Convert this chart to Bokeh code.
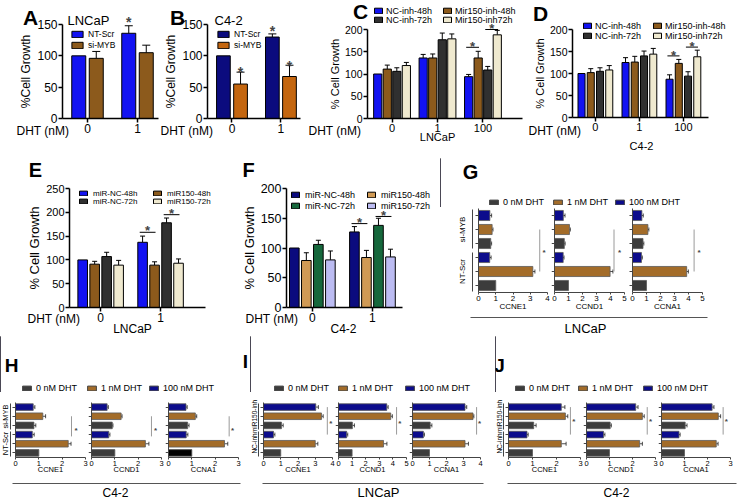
import math
from bokeh.plotting import figure
from bokeh.models import (Range1d, FixedTicker, Label, Legend, LegendItem, Whisker,
                          ColumnDataSource, TeeHead, LinearAxis)
from bokeh.layouts import row, column
from bokeh.embed import file_html
from bokeh.resources import INLINE

FONT = "Liberation Sans"

# ---------------- data ----------------
dht_2 = ["0", "1"]
dht_3 = ["0", "1", "100"]

# A (LNCaP) / B (C4-2)
ab_series = ["NT-Scr", "si-MYB"]
a_ntscr = [100, 136]; a_ntscr_err = [0, 12]
a_simyb = [96, 105];  a_simyb_err = [11, 12]
b_ntscr = [100, 130]; b_ntscr_err = [0, 5]
b_simyb = [55, 67];   b_simyb_err = [19, 18]

# C (LNCaP) / D (C4-2)
cd_series = ["NC-inh-48h", "Mir150-inh-48h", "NC-inh-72h", "Mir150-inh72h"]
c_nc48 = [100, 136, 94];  c_nc48_err = [0, 8, 5]
c_mir48 = [111, 136, 136]; c_mir48_err = [9, 9, 15]
c_nc72 = [106, 177, 109]; c_nc72_err = [8, 15, 8]
c_mir72 = [119, 179, 188]; c_mir72_err = [7, 11, 10]
d_nc48 = [100, 125, 87];  d_nc48_err = [0, 11, 10]
d_mir48 = [102, 126, 123]; d_mir48_err = [9, 13, 9]
d_nc72 = [105, 140, 94];  d_nc72_err = [8, 11, 10]
d_mir72 = [108, 144, 138]; d_mir72_err = [10, 13, 15]

# E (LNCaP) / F (C4-2)
ef_series = ["miR-NC-48h", "miR150-48h", "miR-NC-72h", "miR150-72h"]
e_nc48 = [100, 137]; e_nc48_err = [0, 13]
e_mir48 = [91, 89];  e_mir48_err = [6, 7]
e_nc72 = [107, 178]; e_nc72_err = [9, 10]
e_mir72 = [89, 93];  e_mir72_err = [10, 9]
f_nc48 = [100, 127]; f_nc48_err = [0, 9]
f_mir48 = [79, 84];  f_mir48_err = [13, 12]
f_nc72 = [106, 138]; f_nc72_err = [7, 12]
f_mir72 = [80, 85];  f_mir72_err = [15, 13]

# G-J : relative mRNA, rows top->bottom: [grpTop 100nM, 1nM, 0nM, grpBottom 100nM, 1nM, 0nM]
dose_labels = ["0 nM DHT", "1 nM DHT", "100 nM DHT"]
row_dose = [2, 1, 0, 2, 1, 0]
genes = ["CCNE1", "CCND1", "CCNA1"]
gh_groups = ["si-MYB", "NT-Scr"]
ij_groups = ["miR150-inh", "NC-inh"]

g_vals = [[0.66, 0.79, 0.71, 0.65, 3.15, 1.0],
          [0.63, 1.07, 0.70, 0.62, 3.97, 1.0],
          [0.67, 1.10, 0.75, 0.64, 3.87, 1.0]]
g_errs = [[0.10, 0.05, 0.05, 0.08, 0.12, 0],
          [0.12, 0.06, 0.06, 0.06, 0.20, 0],
          [0.10, 0.07, 0.06, 0.06, 0.12, 0]]
h_vals = [[0.76, 1.17, 0.79, 0.72, 2.26, 1.0],
          [0.67, 1.27, 0.89, 0.74, 2.31, 1.0],
          [0.75, 1.15, 0.82, 0.76, 2.40, 1.0]]
h_errs = [[0.07, 0.12, 0.08, 0.08, 0.12, 0],
          [0.05, 0.04, 0.03, 0.05, 0.15, 0],
          [0.05, 0.06, 0.06, 0.07, 0.14, 0]]
i_vals = [[3.03, 3.36, 1.04, 0.58, 3.00, 1.0],
          [3.55, 3.84, 1.02, 0.60, 3.31, 1.0],
          [3.09, 3.56, 1.04, 0.64, 3.09, 1.0]]
i_errs = [[0.15, 0.10, 0.10, 0.08, 0.15, 0],
          [0.10, 0.12, 0.15, 0.08, 0.25, 0],
          [0.10, 0.05, 0.10, 0.06, 0.20, 0]]
j_vals = [[2.20, 2.37, 1.05, 0.77, 2.20, 1.0],
          [2.14, 2.43, 1.03, 0.74, 2.31, 1.0],
          [2.20, 2.47, 1.03, 0.76, 2.38, 1.0]]
j_errs = [[0.15, 0.10, 0.10, 0.05, 0.20, 0],
          [0.10, 0.08, 0.05, 0.06, 0.12, 0],
          [0.08, 0.10, 0.08, 0.05, 0.08, 0]]

# ---------------- style ----------------
BLUE = "#1212f2"; BROWN = "#8c5a1c"; NAVY = "#0b0b7e"; ORANGE = "#c4660f"
DARK = "#303030"; CREAM = "#efe9cf"; TAN = "#d09a55"; GREEN = "#16683c"; LAV = "#bcbcf2"
DOSE_COLORS = ["#3c3c3c", "#a36c29", "#0c0c8c"]


class Panel:
    """Figure whose frame fills its canvas; the data rectangle `rect` (layout pixels)
    carries the ranges xr/yr, and the axes are pinned there with fixed_location."""

    def __init__(self, canvas, rect=None, xr=(0, 1), yr=(0, 1), axes=True):
        cx0, cy0, cx1, cy1 = canvas
        if rect is None:
            rect = canvas
        fx0, fy0, fx1, fy1 = rect
        ux = (xr[1] - xr[0]) / (fx1 - fx0)
        uy = (yr[1] - yr[0]) / (fy1 - fy0)
        full_x = (xr[0] - (fx0 - cx0) * ux, xr[1] + (cx1 - fx1) * ux)
        full_y = (yr[0] - (cy1 - fy1) * uy, yr[1] + (fy0 - cy0) * uy)
        p = figure(width=cx1 - cx0, height=cy1 - cy0, x_range=Range1d(*full_x),
                   y_range=Range1d(*full_y), min_border=0, min_border_left=0,
                   min_border_right=0, min_border_top=0, min_border_bottom=0,
                   x_axis_location=None, y_axis_location=None,
                   toolbar_location=None, output_backend="svg", title=None)
        p.xgrid.visible = False
        p.ygrid.visible = False
        p.outline_line_color = None
        if axes:
            p.add_layout(LinearAxis(fixed_location=yr[0], bounds=tuple(xr)), "below")
            p.add_layout(LinearAxis(fixed_location=xr[0], bounds=tuple(yr)), "left")
        self.p = p
        self.cx0, self.cy1 = cx0, cy1
        self.ux, self.uy = ux, uy
        self.x0d, self.y0d = full_x[0], full_y[0]
        self.ppu = 1.0 / uy

    def sx(self, px):
        return px - self.cx0

    def sy(self, py):
        return self.cy1 - py

    def dx(self, px):
        return self.x0d + (px - self.cx0) * self.ux

    def dy(self, py):
        return self.y0d + (self.cy1 - py) * self.uy

    def text(self, px, py, t, fs, align="center", bold=False, angle=0.0, color="black"):
        self.p.add_layout(Label(x=self.sx(px), y=self.sy(py), x_units="screen", y_units="screen",
                                text=t, text_font=FONT, text_font_size=f"{fs}px", text_align=align,
                                text_baseline="middle", text_font_style="bold" if bold else "normal",
                                angle=angle, text_color=color))

    def vline(self, px, py0, py1, color="black", w=1):
        self.p.segment(x0=[self.dx(px)], y0=[self.dy(py0)], x1=[self.dx(px)], y1=[self.dy(py1)],
                       line_color=color, line_width=w)

    def hline(self, px0, px1, py, color="black", w=1):
        self.p.segment(x0=[self.dx(px0)], y0=[self.dy(py)], x1=[self.dx(px1)], y1=[self.dy(py)],
                       line_color=color, line_width=w)

    def legend_item(self, label, r, left_px, cy, gw, gh, fs, standoff=4):
        h = max(gh, int(math.ceil(fs * 1.25)))
        bottom = cy - gh / 2 + h
        lg = Legend(items=[LegendItem(label=label, renderers=[r])],
                    location=(self.sx(left_px), self.sy(bottom)),
                    orientation="vertical", padding=0, margin=0, spacing=0,
                    glyph_width=gw, glyph_height=gh, label_height=h, label_standoff=standoff,
                    label_text_font=FONT, label_text_font_size=f"{fs}px",
                    label_text_baseline="middle", label_text_color="black",
                    background_fill_alpha=0, border_line_color=None)
        self.p.add_layout(lg)

    def star(self, x, yc, fs):
        # yc = wanted visual centre of the asterisk (data units)
        self.p.add_layout(Label(x=x, y=yc - 0.25 * fs / self.ppu, text="*", text_font=FONT,
                                text_font_size=f"{fs}px", text_align="center",
                                text_baseline="middle", text_font_style="bold"))


def style_axes(p, fs_x, fs_y, fs_lab, lw=1.5, color="black", tick_out=4):
    for ax in list(p.xaxis) + list(p.yaxis):
        ax.axis_line_width = lw
        ax.axis_line_color = color
        ax.major_tick_line_width = lw
        ax.major_tick_line_color = color
        ax.major_tick_out = tick_out
        ax.major_tick_in = 0
        ax.minor_tick_line_color = None
        ax.major_label_text_font = FONT
        ax.major_label_text_color = "black"
        ax.axis_label_text_font = FONT
        ax.axis_label_text_font_style = "normal"
        ax.axis_label_text_color = "black"
        ax.major_label_standoff = 1
        ax.axis_label_standoff = 1
    for ax in p.xaxis:
        ax.major_label_text_font_size = f"{fs_x}px"
        ax.axis_label_text_font_size = f"{fs_lab}px"
    for ax in p.yaxis:
        ax.major_label_text_font_size = f"{fs_y}px"
        ax.axis_label_text_font_size = f"{fs_lab}px"


def vpanel(canvas, rect, xr, yr, yticks, groups, vals, errs, colors, step, width, head,
           fs_x, fs_y, ylabel, fs_lab):
    P = Panel(canvas, rect, xr, yr)
    p = P.p
    K = len(vals)
    rends, centers = [], []
    for k in range(K):
        off = (k - (K - 1) / 2) * step
        xs = [i + off for i in range(len(groups))]
        centers.append(xs)
        src = ColumnDataSource(dict(x=xs, top=vals[k]))
        r = p.vbar(x="x", top="top", bottom=0, width=width, source=src, fill_color=colors[k],
                   line_color="black", line_width=1)
        rends.append(r)
        idx = [i for i in range(len(groups)) if errs[k][i] > 0]
        esrc = ColumnDataSource(dict(x=[xs[i] for i in idx], lo=[vals[k][i] for i in idx],
                                     up=[vals[k][i] + errs[k][i] for i in idx]))
        p.add_layout(Whisker(source=esrc, base="x", lower="lo", upper="up", dimension="height",
                             line_color="black", line_width=1, lower_head=None,
                             upper_head=TeeHead(size=head, line_color="black", line_width=1)))
    style_axes(p, fs_x, fs_y, fs_lab)
    p.xaxis.ticker = FixedTicker(ticks=list(range(len(groups))))
    p.xaxis.major_label_overrides = {i: g for i, g in enumerate(groups)}
    p.yaxis.ticker = FixedTicker(ticks=yticks)
    p.yaxis.axis_label = ylabel
    P.centers = centers
    P.bw = width
    return P, rends


def vbracket(P, g, i, j, y_line, y_star, fs):
    x1 = P.centers[i][g] - 0.3 * P.bw
    x2 = P.centers[j][g] + 0.1 * P.bw
    src = ColumnDataSource(dict(b=[y_line], lo=[x1], up=[x2]))
    P.p.add_layout(Whisker(source=src, base="b", lower="lo", upper="up", dimension="width",
                           line_color="black", line_width=1, lower_head=None, upper_head=None))
    P.star((x1 + x2) / 2, y_star, fs)


def hpanel(canvas, rect, xmax, vals, errs, gene, brk_x, brk_r0, brk_r1, star_x, star_r,
           colors=None, fs=8, star_fs=8, lab_off=-2):
    P = Panel(canvas, rect, (0, xmax), (-0.5, 5.5))
    p = P.p
    ys = [5 - i for i in range(len(vals))]
    cols = colors if colors else [DOSE_COLORS[d] for d in row_dose]
    src = ColumnDataSource(dict(y=ys, right=vals, color=cols))
    p.hbar(y="y", left=0, right="right", height=0.72, fill_color="color", line_color="#5a5a5a",
           line_width=0.8, source=src)
    idx = [i for i in range(len(vals)) if errs[i] > 0]
    esrc = ColumnDataSource(dict(y=[ys[i] for i in idx], lo=[vals[i] for i in idx],
                                 up=[vals[i] + errs[i] for i in idx]))
    p.add_layout(Whisker(source=esrc, base="y", lower="lo", upper="up", dimension="width",
                         line_color="#222222", line_width=0.8, lower_head=None,
                         upper_head=TeeHead(size=4, line_color="#222222", line_width=0.8)))
    bsrc = ColumnDataSource(dict(b=[brk_x], lo=[5 - brk_r1], up=[5 - brk_r0]))
    p.add_layout(Whisker(source=bsrc, base="b", lower="lo", upper="up", dimension="height",
                         line_color="#9a9a9a", line_width=1, lower_head=None, upper_head=None))
    P.star(star_x, 5 - star_r, star_fs)
    style_axes(p, fs, fs, fs, lw=1, color="#444444", tick_out=2)
    p.xaxis.ticker = FixedTicker(ticks=list(range(xmax + 1)))
    p.yaxis.ticker = FixedTicker(ticks=ys)
    p.yaxis.major_label_overrides = {y: "" for y in ys}
    p.yaxis.major_label_standoff = 0
    p.yaxis.major_tick_out = 3
    p.xaxis.axis_label = gene
    p.xaxis.axis_label_standoff = lab_off
    return P


def header(canvas, letters, lfs, legend_x, legend_y):
    P = Panel(canvas, axes=False)
    for t, (lx, ly) in letters:
        P.text(lx, ly, t, lfs, bold=True)
    rs = [P.p.vbar(x=[-5], top=[1], width=0.1, fill_color=c, line_color="#444444", line_width=1)
          for c in DOSE_COLORS]
    for k in range(3):
        P.legend_item(dose_labels[k], rs[k], legend_x[k], legend_y, 11, 6, 9, standoff=4)
    return P.p


def footer(canvas, x0, x1, ly, text, tx, ty, fs):
    P = Panel(canvas, axes=False)
    P.hline(x0, x1, ly, color="#555555", w=1)
    P.text(tx, ty, text, fs)
    return P.p


# ================= Row 1 =================
A, a_r = vpanel((0, 0, 160, 158), (62, 24, 158, 118), (-0.5, 1.42), (0, 150), [0, 50, 100, 150], dht_2,
                [a_ntscr, a_simyb], [a_ntscr_err, a_simyb_err], [BLUE, BROWN], 0.35, 0.28, 8,
                12, 12, "%Cell Growth", 12)
A.text(30, 17, "A", 21, bold=True)
A.text(67, 20, "LNCaP", 13, align="left")
A.legend_item(ab_series[0], a_r[0], 70, 32, 14, 8, 8.5)
A.legend_item(ab_series[1], a_r[1], 70, 43, 14, 8, 8.5)
A.text(44, 130, "DHT  (nM)", 12)
A.star(A.centers[0][1], 159, 14)

B, b_r = vpanel((160, 0, 303, 158), (207, 24, 300, 118), (-0.5, 1.4), (0, 150), [0, 50, 100, 150], dht_2,
                [b_ntscr, b_simyb], [b_ntscr_err, b_simyb_err], [NAVY, ORANGE], 0.35, 0.28, 8,
                12, 12, "%Cell Growth", 12)
B.text(177, 17, "B", 21, bold=True)
B.text(214, 20, "C4-2", 13, align="left")
B.legend_item(ab_series[0], b_r[0], 216, 32, 14, 8, 8.5)
B.legend_item(ab_series[1], b_r[1], 216, 43, 14, 8, 8.5)
B.text(188, 130, "DHT  (nM)", 12)
B.star(B.centers[1][0], 80, 14)
B.star(B.centers[0][1], 145, 14)
B.star(B.centers[1][1], 90, 14)

C, c_r = vpanel((303, 0, 526, 158), (367, 29, 522, 118), (-0.54, 2.87), (0, 200), [0, 50, 100, 150, 200],
                dht_3, [c_nc48, c_mir48, c_nc72, c_mir72],
                [c_nc48_err, c_mir48_err, c_nc72_err, c_mir72_err], [BLUE, BROWN, DARK, CREAM],
                0.21, 0.18, 5, 11, 10.5, "% Cell Growth", 11)
C.text(360, 11, "C", 21, bold=True)
C.legend_item(cd_series[0], c_r[0], 373, 8, 10, 7, 9, standoff=3)
C.legend_item(cd_series[2], c_r[2], 373, 17, 10, 7, 9, standoff=3)
C.legend_item(cd_series[1], c_r[1], 442, 8, 10, 7, 9, standoff=3)
C.legend_item(cd_series[3], c_r[3], 442, 17, 10, 7, 9, standoff=3)
C.text(336, 130, "DHT  (nM)", 12)
C.text(437, 136, "LNCaP", 11)
vbracket(C, 2, 0, 1, 160, 169, 13)
vbracket(C, 2, 2, 3, 200, 209, 13)

D, d_r = vpanel((526, 0, 738, 158), (572, 29, 708, 117), (-0.52, 2.57), (0, 200), [0, 50, 100, 150, 200],
                dht_3, [d_nc48, d_mir48, d_nc72, d_mir72],
                [d_nc48_err, d_mir48_err, d_nc72_err, d_mir72_err], [BLUE, BROWN, DARK, CREAM],
                0.21, 0.16, 5, 11, 10.5, "% Cell Growth", 11)
D.text(540, 13, "D", 21, bold=True)
D.legend_item(cd_series[0], d_r[0], 582, 23, 10, 7, 9, standoff=3)
D.legend_item(cd_series[2], d_r[2], 582, 33, 10, 7, 9, standoff=3)
D.legend_item(cd_series[1], d_r[1], 652, 23, 10, 7, 9, standoff=3)
D.legend_item(cd_series[3], d_r[3], 652, 33, 10, 7, 9, standoff=3)
D.text(556, 130, "DHT  (nM)", 12)
D.text(641, 145, "C4-2", 11)
vbracket(D, 2, 0, 1, 140, 148, 13)
vbracket(D, 2, 2, 3, 160, 168, 13)

# ================= Row 2 =================
E, e_r = vpanel((0, 158, 225, 336), (69, 188, 205, 307), (-0.52, 1.75), (0, 250),
                [0, 50, 100, 150, 200, 250], dht_2, [e_nc48, e_mir48, e_nc72, e_mir72],
                [e_nc48_err, e_mir48_err, e_nc72_err, e_mir72_err], [BLUE, BROWN, DARK, CREAM],
                0.2, 0.16, 5, 12, 11, "% Cell Growth", 13)
E.text(35, 169, "E", 20, bold=True)
E.legend_item(ef_series[0], e_r[0], 78, 191, 10, 6, 8, standoff=5)
E.legend_item(ef_series[2], e_r[2], 78, 199, 10, 6, 8, standoff=5)
E.legend_item(ef_series[1], e_r[1], 152, 191, 10, 6, 8, standoff=5)
E.legend_item(ef_series[3], e_r[3], 152, 199, 10, 6, 8, standoff=5)
E.text(55, 318, "DHT  (nM)", 12)
E.text(132, 328, "LNCaP", 12)
vbracket(E, 1, 0, 1, 158, 168, 13)
vbracket(E, 1, 2, 3, 195, 204, 13)

F, f_r = vpanel((225, 158, 440, 336), (286, 188, 402, 307), (-0.43, 1.5), (0, 200),
                [0, 50, 100, 150, 200], dht_2, [f_nc48, f_mir48, f_nc72, f_mir72],
                [f_nc48_err, f_mir48_err, f_nc72_err, f_mir72_err], [NAVY, TAN, GREEN, LAV],
                0.2, 0.16, 5, 12, 12.5, "% Cell Growth", 13)
F.text(248, 169, "F", 20, bold=True)
F.legend_item(ef_series[0], f_r[0], 290, 192, 10, 7, 9, standoff=5)
F.legend_item(ef_series[2], f_r[2], 290, 203, 10, 7, 9, standoff=5)
F.legend_item(ef_series[1], f_r[1], 366, 192, 10, 7, 9, standoff=5)
F.legend_item(ef_series[3], f_r[3], 366, 203, 10, 7, 9, standoff=5)
F.text(273, 318, "DHT  (nM)", 12)
F.text(343, 328, "C4-2", 12)
vbracket(F, 1, 0, 1, 141, 148, 13)
vbracket(F, 1, 2, 3, 153, 160, 13)

# G
g_head = header((440, 158, 738, 207), [("G", (470, 171))], 20, [488, 552, 614], 199)
G1 = hpanel((440, 207, 551, 312), (478, 208, 547, 292), 4, g_vals[0], g_errs[0], genes[0], 3.55, 1, 4, 3.8, 2.5)
G2 = hpanel((551, 207, 628, 312), (554, 208, 624, 292), 5, g_vals[1], g_errs[1], genes[1], 4.25, 1, 4, 4.65, 2.5)
G3 = hpanel((628, 207, 738, 312), (632, 208, 702, 292), 5, g_vals[2], g_errs[2], genes[2], 4.4, 1, 4, 4.75, 2.5)
G1.text(462, 229, gh_groups[0], 8, angle=math.pi / 2)
G1.text(462, 271, gh_groups[1], 8, angle=math.pi / 2)
G1.vline(472, 209, 248, color="#444444")
G1.vline(472, 252, 291, color="#444444")
g_foot = footer((440, 312, 738, 336), 470, 707, 317, "LNCaP", 585, 328, 13)

# ================= Row 3 =================
h_head = header((0, 336, 250, 392), [("H", (11, 365)), ("I", (245, 361))], 19, [21, 86, 148], 385)
H1 = hpanel((0, 392, 88, 478), (15, 402, 85, 457), 3, h_vals[0], h_errs[0], genes[0], 2.4, 1, 3.2, 2.6, 2.3,
            fs=7.5, lab_off=-4)
H2 = hpanel((88, 392, 165, 478), (91, 402, 161, 457), 3, h_vals[1], h_errs[1], genes[1], 2.57, 1, 3.2, 2.75, 2.3,
            fs=7.5, lab_off=-4)
h3_cols = [DOSE_COLORS[d] for d in row_dose]
h3_cols[5] = "#000000"
H3 = hpanel((165, 392, 250, 478), (168, 402, 238, 457), 3, h_vals[2], h_errs[2], genes[2], 2.6, 1, 3.2, 2.75, 2.3,
            colors=h3_cols, fs=7.5, lab_off=-4)
H1.text(5, 416, gh_groups[0], 7.5, angle=math.pi / 2)
H1.text(5, 443, gh_groups[1], 7.5, angle=math.pi / 2)
H1.vline(10, 403, 429, color="#444444")
H1.vline(10, 431, 456, color="#444444")
h_foot = footer((0, 478, 250, 499), 12, 240, 483, "C4-2", 115, 492, 12)

i_head = header((250, 336, 495, 392), [], 19, [273, 337, 404], 385)
I1 = hpanel((250, 392, 335, 478), (263, 402, 332, 457), 4, i_vals[0], i_errs[0], genes[0], 3.7, 0, 3, 3.9, 1.6,
            fs=7.5, lab_off=-4)
I2 = hpanel((335, 392, 409, 478), (338, 402, 406, 457), 5, i_vals[1], i_errs[1], genes[1], 4.27, 0, 3, 4.5, 1.6,
            fs=7.5, lab_off=-4)
I3 = hpanel((409, 392, 495, 478), (412, 402, 480, 457), 4, i_vals[2], i_errs[2], genes[2], 3.77, 0, 3, 3.95, 1.6,
            fs=7.5, lab_off=-4)
I1.text(254, 416, ij_groups[0], 6.5, angle=math.pi / 2)
I1.text(254, 443, ij_groups[1], 6.5, angle=math.pi / 2)
I1.vline(258, 403, 429, color="#444444")
I1.vline(258, 431, 456, color="#444444")
i_foot = footer((250, 478, 495, 499), 262, 483, 483, "LNCaP", 378, 492, 13)

j_head = header((495, 336, 738, 392), [("J", (499, 365))], 19, [514, 577, 642], 385)
J1 = hpanel((495, 392, 583, 478), (508, 402, 580, 457), 3, j_vals[0], j_errs[0], genes[0], 2.58, 0, 3, 2.72, 1.4,
            fs=7.5, lab_off=-4)
J2 = hpanel((583, 392, 658, 478), (586, 402, 655, 457), 3, j_vals[1], j_errs[1], genes[1], 2.64, 0, 3, 2.78, 1.4,
            fs=7.5, lab_off=-4)
J3 = hpanel((658, 392, 738, 478), (661, 402, 730, 457), 3, j_vals[2], j_errs[2], genes[2], 2.68, 0, 3, 2.82, 1.4,
            fs=7.5, lab_off=-4)
J1.text(499, 416, ij_groups[0], 6.5, angle=math.pi / 2)
J1.text(499, 443, ij_groups[1], 6.5, angle=math.pi / 2)
J1.vline(503, 403, 429, color="#444444")
J1.vline(503, 431, 456, color="#444444")
j_foot = footer((495, 478, 738, 499), 507, 736, 483, "C4-2", 616, 492, 12)

layout = column(
    row(A.p, B.p, C.p, D.p),
    row(E.p, F.p, column(g_head, row(G1.p, G2.p, G3.p), g_foot)),
    row(column(h_head, row(H1.p, H2.p, H3.p), h_foot),
        column(i_head, row(I1.p, I2.p, I3.p), i_foot),
        column(j_head, row(J1.p, J2.p, J3.p), j_foot)),
)

open("out.html", "w").write(file_html(layout, INLINE))
